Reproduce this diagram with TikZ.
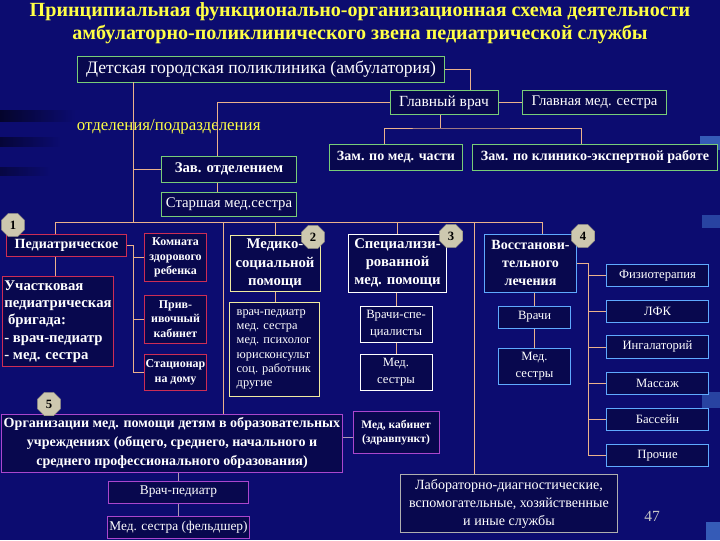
\documentclass[tikz,border=0pt]{standalone}
\usepackage{fontspec}
\setmainfont{Liberation Serif}
\usetikzlibrary{shapes.geometric}

\definecolor{bgblue}{RGB}{12,12,112}
\definecolor{boxblue}{RGB}{8,8,78}
\definecolor{titley}{RGB}{255,255,70}
\definecolor{linkc}{RGB}{235,178,140}
\definecolor{grn}{RGB}{120,205,120}
\definecolor{rd}{RGB}{205,45,85}
\definecolor{ylw}{RGB}{240,235,160}
\definecolor{ltb}{RGB}{95,170,255}
\definecolor{prp}{RGB}{170,70,205}
\definecolor{gry}{RGB}{175,175,175}
\definecolor{badgec}{RGB}{205,200,175}

\tikzset{
  box/.style={draw, fill=boxblue, text=white, inner sep=1pt, align=center, line width=0.7pt},
  gbox/.style={box, draw=grn},
  rbox/.style={box, draw=rd},
  ybox/.style={box, draw=ylw},
  wbox/.style={box, draw=white},
  bbox/.style={box, draw=ltb},
  pbox/.style={box, draw=prp},
  lbox/.style={box, draw=gry},
  lnk/.style={draw=linkc, line width=0.6pt},
  lnkp/.style={draw=gry!80!prp, line width=0.6pt},
  badge/.style={regular polygon, regular polygon sides=8, fill=badgec, draw=badgec!80!black,
    minimum size=0.62cm, inner sep=0pt, font=\fontsize{9}{10}\selectfont\bfseries},
}

\begin{document}
\begin{tikzpicture}[x=0.025cm, y=-0.025cm]
  \useasboundingbox (0,0) rectangle (720,540);
  \fill[bgblue] (0,0) rectangle (720,540);
  % background streaks
  \shade[left color=black, right color=bgblue, opacity=0.6] (0,110) rectangle (75,121);
  \shade[left color=black, right color=bgblue, opacity=0.5] (0,137) rectangle (60,146);
  \shade[left color=black, right color=bgblue, opacity=0.4] (0,167) rectangle (50,175);
  \fill[ltb, opacity=0.5] (700,136) rectangle (720,150);
  \fill[ltb, opacity=0.35] (702,215) rectangle (720,228);
  \fill[ltb, opacity=0.35] (702,392) rectangle (720,408);
  \fill[ltb, opacity=0.5] (706,522) rectangle (720,540);

  % title
  \node[text=titley, align=center, font=\fontsize{14.3}{16.4}\selectfont\bfseries] (title) at (360,23.5)
    {Принципиальная функционально-организационная схема деятельности\\
     амбулаторно-поликлинического звена педиатрической службы};

  % administration
  \node[gbox, minimum width=9.15cm, minimum height=0.65cm, font=\fontsize{12.5}{14}\selectfont] (poly) at (261,69)
    {Детская городская поликлиника (амбулатория)};
  \node[gbox, minimum width=2.7cm, minimum height=0.62cm, font=\fontsize{11}{12}\selectfont] (glvrach) at (444,102.5)
    {Главный врач};
  \node[gbox, minimum width=3.62cm, minimum height=0.62cm, font=\fontsize{10.5}{12}\selectfont] (glms) at (594.5,102.5)
    {Главная мед. сестра};
  \node[text=titley, anchor=west, font=\fontsize{12}{13}\selectfont] (otd) at (72,127)
    {отделения/подразделения};
  \node[gbox, minimum width=3.3cm, minimum height=0.65cm, font=\fontsize{10}{12}\selectfont\bfseries] (zammed) at (396,157)
    {Зам. по мед. части};
  \node[gbox, minimum width=6.1cm, minimum height=0.65cm, font=\fontsize{10}{12}\selectfont\bfseries] (zamklin) at (595,157)
    {Зам. по клинико-экспертной работе};
  \node[gbox, minimum width=3.35cm, minimum height=0.65cm, font=\fontsize{10.5}{12}\selectfont\bfseries] (zav) at (229,169)
    {Зав. отделением};
  \node[gbox, minimum width=3.35cm, minimum height=0.62cm, font=\fontsize{10.5}{12}\selectfont] (starsh) at (229,204.5)
    {Старшая мед.сестра};

  % 1 pediatric
  \node[rbox, minimum width=3.02cm, minimum height=0.57cm, font=\fontsize{10}{12}\selectfont\bfseries] (ped) at (66.5,245.5)
    {Педиатрическое};
  \node[rbox, minimum width=2.6cm, minimum height=2.27cm, align=left, font=\fontsize{10.5}{12.3}\selectfont\bfseries] (uch) at (58,321.5)
    {Участковая\\педиатрическая\\\ бригада:\\- врач-педиатр\\- мед. сестра};
  \node[rbox, minimum width=1.57cm, minimum height=1.22cm, font=\fontsize{8.5}{10.5}\selectfont\bfseries] (komn) at (175.5,257.5)
    {Комната\\здорового\\ребенка};
  \node[rbox, minimum width=1.57cm, minimum height=1.2cm, font=\fontsize{8.5}{10.5}\selectfont\bfseries] (priv) at (175.5,319)
    {Прив-\\ивочный\\кабинет};
  \node[rbox, minimum width=1.57cm, minimum height=0.92cm, font=\fontsize{8.5}{10.5}\selectfont\bfseries] (stac) at (175.5,372.5)
    {Стационар\\на дому};

  % 2 medico-social
  \node[ybox, minimum width=2.25cm, minimum height=1.42cm, font=\fontsize{10.5}{13}\selectfont\bfseries] (medsoc) at (275,263.5)
    {Медико-\\социальной\\помощи};
  \node[ybox, minimum width=2.25cm, minimum height=2.37cm, align=left, font=\fontsize{8.8}{10.2}\selectfont] (medlist) at (274,349.5)
    {врач-педиатр\\мед. сестра\\мед. психолог\\юрисконсульт\\соц. работник\\другие};

  % 3 specialized
  \node[wbox, minimum width=2.47cm, minimum height=1.45cm, font=\fontsize{10.5}{13}\selectfont\bfseries] (spec) at (397.5,263)
    {Специализи-\\рованной\\мед. помощи};
  \node[wbox, minimum width=1.8cm, minimum height=0.9cm, font=\fontsize{9}{12}\selectfont] (vspec) at (396,324)
    {Врачи-спе-\\циалисты};
  \node[wbox, minimum width=1.8cm, minimum height=0.92cm, font=\fontsize{9}{12}\selectfont] (smed) at (396,372.5)
    {Мед.\\сестры};

  % 4 rehabilitation
  \node[bbox, minimum width=2.32cm, minimum height=1.45cm, font=\fontsize{10}{13}\selectfont\bfseries] (vosst) at (530.5,263)
    {Восстанови-\\тельного\\лечения};
  \node[bbox, minimum width=1.82cm, minimum height=0.55cm, font=\fontsize{9}{11}\selectfont] (vrachi) at (534.5,317)
    {Врачи};
  \node[bbox, minimum width=1.82cm, minimum height=0.9cm, font=\fontsize{9}{12}\selectfont] (vmed) at (534.5,366)
    {Мед.\\сестры};
  \node[bbox, minimum width=2.57cm, minimum height=0.57cm, font=\fontsize{9}{11}\selectfont] (fizio) at (657.5,275.5) {Физиотерапия};
  \node[bbox, minimum width=2.57cm, minimum height=0.57cm, font=\fontsize{9}{11}\selectfont] (lfk) at (657.5,311.5) {ЛФК};
  \node[bbox, minimum width=2.57cm, minimum height=0.57cm, font=\fontsize{9}{11}\selectfont] (ingal) at (657.5,347) {Ингалаторий};
  \node[bbox, minimum width=2.57cm, minimum height=0.57cm, font=\fontsize{9}{11}\selectfont] (massag) at (657.5,383.5) {Массаж};
  \node[bbox, minimum width=2.57cm, minimum height=0.57cm, font=\fontsize{9}{11}\selectfont] (bass) at (657.5,419.5) {Бассейн};
  \node[bbox, minimum width=2.57cm, minimum height=0.57cm, font=\fontsize{9}{11}\selectfont] (proch) at (657.5,455.5) {Прочие};

  % 5 schools
  \node[pbox, minimum width=8.5cm, minimum height=1.45cm, font=\fontsize{10}{13.5}\selectfont\bfseries] (org) at (172,443)
    {Организации мед. помощи детям в образовательных\\учреждениях (общего, среднего, начального и\\среднего профессионального образования)};
  \node[pbox, minimum width=2.15cm, minimum height=1.07cm, font=\fontsize{8.2}{10}\selectfont\bfseries] (medkab) at (396,432.5)
    {Мед, кабинет\\(здравпункт)};
  \node[pbox, minimum width=3.52cm, minimum height=0.55cm, font=\fontsize{9.5}{11}\selectfont] (vrped) at (178.5,492)
    {Врач-педиатр};
  \node[pbox, minimum width=3.52cm, minimum height=0.55cm, font=\fontsize{9.5}{11}\selectfont] (medsf) at (178.5,527)
    {Мед. сестра (фельдшер)};

  \node[lbox, minimum width=5.4cm, minimum height=1.47cm, font=\fontsize{10}{12.8}\selectfont] (lab) at (509,503.5)
    {Лабораторно-диагностические,\\вспомогательные, хозяйственные\\и иные службы};
  \node[text=gry!70!white, font=\fontsize{11}{12}\selectfont] (num) at (652,516) {47};

  % connectors
  \coordinate (busL) at (55,222);
  \coordinate (busR) at (542,222);
  \coordinate (vA) at (133,222);
  \coordinate (vB) at (223,222);
  \coordinate (vC) at (474,222);
  \coordinate (vD) at (133,245.5);
  \coordinate (vE) at (588,263);
  \coordinate (zbus) at (440,128);

  \draw[lnk] (poly.east) -| ([xshift=0.65cm]glvrach.north);
  \draw[lnk] (glvrach.east) -- (glms.west);
  \draw[lnk] (glvrach.west) -| ([xshift=-0.3cm]zav.north);
  \draw[lnk] ([xshift=-0.3cm]zav.south) -- ([xshift=-0.3cm]starsh.north);
  \draw[lnk] (vA |- poly.south) -- (vA);
  \draw[lnk] (zav.west) -- (zav.west -| vA);
  \draw[lnk] (zbus |- glvrach.south) -- (zbus);
  \draw[lnk] ([xshift=-0.3cm]zammed.north) |- (zbus) -| ([xshift=-0.33cm]zamklin.north);

  \draw[lnk] (busL) -- (busR);
  \draw[lnk] (busL) -- (busL |- ped.north);
  \draw[lnk] (busL |- ped.south) -- (busL |- uch.north);
  \draw[lnk] (ped.east) -- (vD) -- (vD |- stac.west) -- (stac.west);
  \draw[lnk] (vD |- komn.west) -- (komn.west);
  \draw[lnk] (vD |- priv.west) -- (priv.west);
  \draw[lnk] (vB) -- (vB |- org.north);
  \draw[lnk] (medsoc.north |- busL) -- (medsoc.north);
  \draw[lnk] (medsoc.south) -- (medsoc.south |- medlist.north);
  \draw[lnk] (spec.north |- busL) -- (spec.north);
  \draw[lnk] (vspec.north |- spec.south) -- (vspec.north);
  \draw[lnk] (vspec.south) -- (smed.north);
  \draw[lnk] (busR) -- (busR |- vosst.north);
  \draw[lnk] (vC) -- (vC |- lab.north);
  \draw[lnk] (vrachi.north |- vosst.south) -- (vrachi.north);
  \draw[lnk] (vrachi.south) -- (vmed.north);
  \draw[lnk] (vosst.east) -- (vE) -- (vE |- proch.west) -- (proch.west);
  \foreach \n in {fizio,lfk,ingal,massag,bass}
    \draw[lnk] (vE |- \n.west) -- (\n.west);
  \draw[lnkp] (vrped.north |- org.south) -- (vrped.north);
  \draw[lnkp] (vrped.south) -- (medsf.north);
  \draw[lnkp] ([yshift=-0.13cm]medkab.west) -- ([yshift=-0.13cm]medkab.west -| org.east);

  % numbers
  \node[badge] (b1) at (13,225) {1};
  \node[badge] (b2) at (313,237) {2};
  \node[badge] (b3) at (451,236) {3};
  \node[badge] (b4) at (583,236) {4};
  \node[badge] (b5) at (49,404) {5};
\end{tikzpicture}
\end{document}
